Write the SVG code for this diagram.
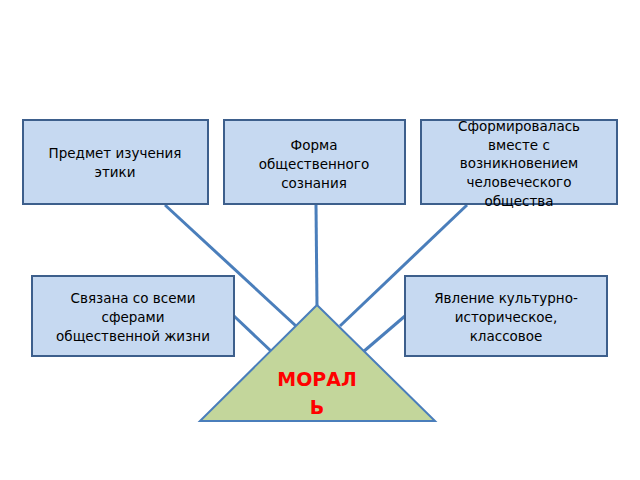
<svg xmlns="http://www.w3.org/2000/svg" width="640" height="480" viewBox="0 0 640 480">
<style>
.b{fill:#c6d9f1;stroke:#3d5f8c;stroke-width:2}
.t{font-family:"DejaVu Sans",sans-serif;font-size:13.5px;fill:#000;text-anchor:middle}
.c{stroke:#4a7ebb;stroke-width:3;fill:none}
</style>
<rect width="640" height="480" fill="#fff"/>
<g id="connectors">
<line class="c" x1="165" y1="205" x2="296" y2="326"/>
<line class="c" x1="316" y1="205" x2="317" y2="305"/>
<line class="c" x1="467" y1="205" x2="340" y2="326"/>
<line class="c" x1="234" y1="316" x2="272" y2="352"/>
<line class="c" x1="405" y1="316" x2="363" y2="352"/>
</g>
<g id="n1"><rect class="b" x="23" y="120" width="185" height="84"/>
<text class="t" x="115" y="158">Предмет изучения</text><text class="t" x="115" y="177">этики</text></g>
<g id="n2"><rect class="b" x="224" y="120" width="181" height="84"/>
<text class="t" x="314" y="150">Форма</text><text class="t" x="314" y="169">общественного</text><text class="t" x="314" y="188">сознания</text></g>
<g id="n3"><rect class="b" x="421" y="120" width="196" height="84"/>
<text class="t" x="519" y="131">Сформировалась</text><text class="t" x="519" y="150">вместе с</text><text class="t" x="519" y="168">возникновением</text><text class="t" x="519" y="187">человеческого</text><text class="t" x="519" y="206">общества</text></g>
<g id="n4"><rect class="b" x="32" y="276" width="202" height="80"/>
<text class="t" x="133" y="303">Связана со всеми</text><text class="t" x="133" y="322">сферами</text><text class="t" x="133" y="341">общественной жизни</text></g>
<g id="n5"><rect class="b" x="405" y="276" width="202" height="80"/>
<text class="t" x="506" y="303">Явление культурно-</text><text class="t" x="506" y="322">историческое,</text><text class="t" x="506" y="341">классовое</text></g>
<g id="moral"><polygon points="317,305 435,421 200,421" fill="#c3d69b" stroke="#4a7ebb" stroke-width="2"/>
<text x="317" y="386" font-family="DejaVu Sans,sans-serif" font-size="19" font-weight="bold" fill="#ff0000" text-anchor="middle">МОРАЛ</text>
<text x="317" y="414" font-family="DejaVu Sans,sans-serif" font-size="19" font-weight="bold" fill="#ff0000" text-anchor="middle">Ь</text></g>
</svg>
